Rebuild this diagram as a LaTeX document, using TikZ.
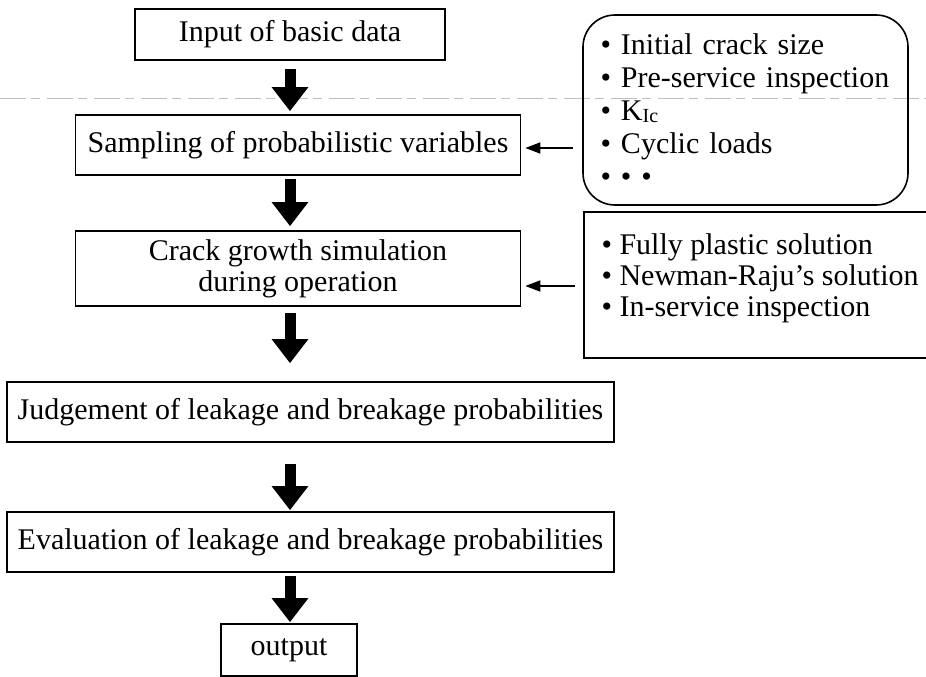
\documentclass[tikz,border=0pt]{standalone}
\usepackage{fontspec}
\setmainfont{Liberation Serif}
\usetikzlibrary{arrows.meta}

\begin{document}
\begin{tikzpicture}[x=1pt,y=-1pt,
  every node/.style={align=center,font=\fontsize{30}{31}\selectfont},
  stepbox/.style={draw,line width=1.6pt},
  bigarrow/.style={line width=11pt,-{Triangle[length=24pt,width=35pt]}},
  sidearrow/.style={line width=1.6pt,-{Triangle[length=15pt,width=11pt]}}]
\useasboundingbox (0,0) rectangle (926,677);
\draw[gray!50,line width=0.8pt,dash pattern=on 26pt off 5pt on 9pt off 7pt] (0,98) -- (926,98);
\node[stepbox,minimum width=310pt,minimum height=51pt] (input) at (290,34.5) {Input of basic data};
\node[stepbox,minimum width=445pt,minimum height=60pt] (samp) at (298,145) {Sampling of probabilistic variables};
\node[stepbox,minimum width=445pt,minimum height=75pt] (crack) at (298,268.5) {Crack growth simulation\\during operation};
\node[stepbox,minimum width=607pt,minimum height=60pt] (judge) at (310.5,412) {Judgement of leakage and breakage probabilities};
\node[stepbox,minimum width=607pt,minimum height=60pt] (eval) at (310.5,542) {Evaluation of leakage and breakage probabilities};
\node[stepbox,minimum width=136pt,minimum height=52pt] (output) at (289,650) {output};
\node[stepbox,rounded corners=32pt,minimum width=325pt,minimum height=190pt,text width=290pt,align=left,
  font=\fontsize{30}{33}\selectfont] (inputs) at (745.5,110)
  {\textbullet\ Initial crack size\\\textbullet\ Pre-service inspection\\\textbullet\ K\raisebox{-2pt}{\fontsize{20}{20}\selectfont Ic}\\\textbullet\ Cyclic loads\\\textbullet\ \textbullet\ \textbullet};
\node[stepbox,minimum width=380pt,minimum height=146pt] (methods) at (774,285) {};
\node[anchor=north west,align=left] (methlist) at (598,230)
  {\textbullet\ Fully plastic solution\\\textbullet\ Newman-Raju's solution\\\textbullet\ In-service inspection};
\coordinate (inputsarrow) at (573,148);
\coordinate (methodsarrow) at (575,286);
\draw[sidearrow,shorten >=4pt] (inputsarrow) -- (inputsarrow -| samp.east);
\draw[sidearrow,shorten >=4pt] (methodsarrow) -- (methodsarrow -| crack.east);
\draw[bigarrow,shorten <=8pt,shorten >=3pt] (input.south) -- (input.south |- samp.north);
\draw[bigarrow,shorten <=3pt,shorten >=4pt] (samp.south -| input.south) -- (input.south |- crack.north);
\draw[bigarrow,shorten <=6pt,shorten >=18pt] (crack.south -| input.south) -- (input.south |- judge.north);
\draw[bigarrow,shorten <=21pt,shorten >=1pt] (judge.south -| input.south) -- (input.south |- eval.north);
\draw[bigarrow,shorten <=3pt,shorten >=1pt] (eval.south -| input.south) -- (input.south |- output.north);
\end{tikzpicture}
\end{document}
